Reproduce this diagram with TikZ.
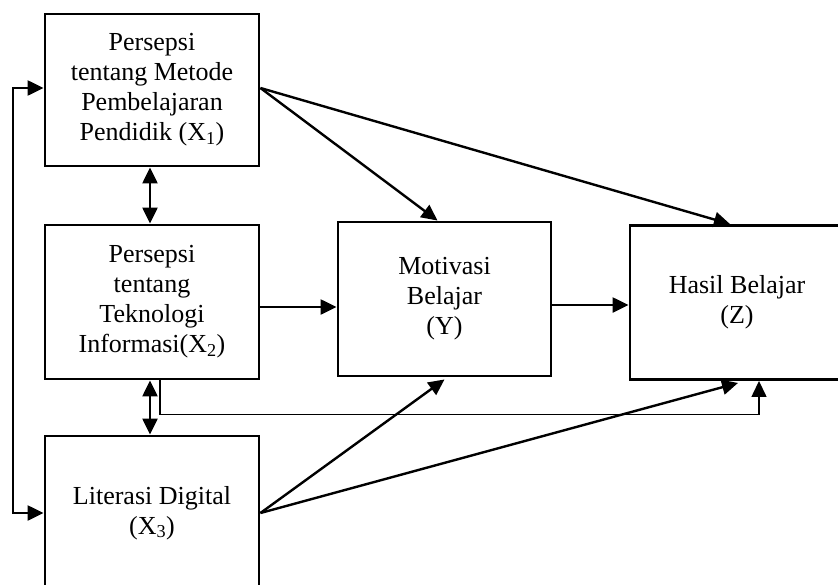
\documentclass[tikz,border=0pt]{standalone}
\usepackage{fontspec}
\setmainfont{Liberation Serif}
\usetikzlibrary{arrows.meta}
\begin{document}
\begin{tikzpicture}[x=1pt,y=-1pt,
  box/.style={draw, line width=2.9pt, minimum width=214pt, minimum height=154pt,
    align=center, inner sep=0pt, font=\fontsize{26}{30}\selectfont},
  arr/.style={line width=2.4pt, -{Triangle[length=16pt,width=15pt]}},
  dblarr/.style={line width=2.4pt, {Triangle[length=16pt,width=15pt]}-{Triangle[length=16pt,width=15pt]}},
  thinarr/.style={line width=1.4pt, -{Triangle[length=16pt,width=15pt]}}]
\useasboundingbox (0,0) rectangle (838,584);
\clip (0,0) rectangle (838,584);
\fill[white] (0,0) rectangle (838,584);

% variables
\node[box, minimum height=152pt] (x1) at (152,90) {Persepsi\\tentang Metode\\Pembelajaran\\Pendidik (X\textsubscript{1})};
\node[box] (x2) at (152,302) {Persepsi\\tentang\\Teknologi\\Informasi(X\textsubscript{2})};
\node[box] (x3) at (152,513) {Literasi Digital\\(X\textsubscript{3})};
\node[box, minimum width=213pt] (y) at (444.5,299) {Motivasi\\Belajar\\(Y)};
\node[box] (z) at (737,302.5) {Hasil Belajar\\(Z)};

% correlations between the independent variables
\draw[dblarr] ([xshift=-2pt]x1.south) -- ([xshift=-2pt]x2.north);
\draw[dblarr] ([xshift=-2pt]x2.south) -- ([xshift=-2pt]x3.north);
\coordinate (loop) at (13,300);
\draw[dblarr] ([yshift=2pt]x1.west) -| (loop) |- (x3.west);

% paths from X1
\draw[arr] ([yshift=2pt]x1.east) -- ([xshift=-7pt]y.north);
\draw[arr] ([yshift=2pt]x1.east) -- ([xshift=-7pt]z.north);

% paths from X2
\draw[arr] ([yshift=-5pt]x2.east) -- ([yshift=-5pt]x2.east -| y.west);
\draw[thinarr] ([xshift=8pt]x2.south) -- ++(0,34) -| ([xshift=22pt]z.south);

% path from Y
\draw[arr] ([yshift=-6pt]y.east) -- ([yshift=-6pt]y.east -| z.west);

% paths from X3
\draw[arr] (x3.east) -- ([yshift=-2pt]y.south);
\draw[arr] (x3.east) -- ([xshift=1pt,yshift=-2pt]z.south);
\end{tikzpicture}
\end{document}
